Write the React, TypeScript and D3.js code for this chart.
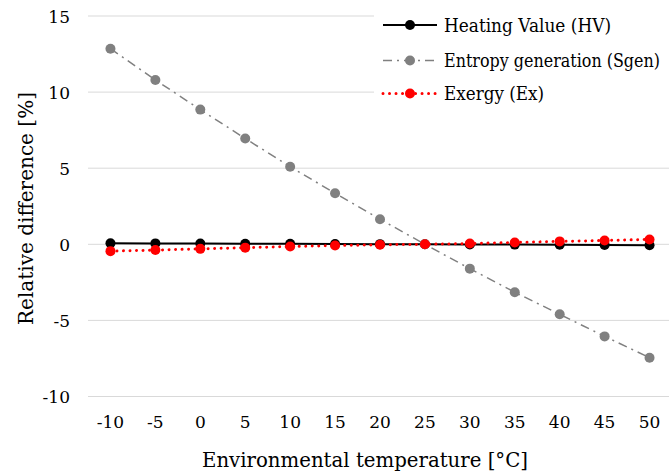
import React from "react";
import * as d3 from "d3";

const categories = ["-10", "-5", "0", "5", "10", "15", "20", "25", "30", "35", "40", "45", "50"];
const hvValues = [0.07, 0.06, 0.05, 0.04, 0.03, 0.02, 0.01, 0, -0.01, -0.02, -0.03, -0.04, -0.06];
const sgenValues = [12.85, 10.8, 8.85, 6.95, 5.1, 3.35, 1.65, 0, -1.6, -3.15, -4.6, -6.05, -7.45];
const exValues = [-0.45, -0.38, -0.3, -0.22, -0.15, -0.08, -0.03, 0, 0.05, 0.12, 0.19, 0.25, 0.32];
const yTicks = [-10, -5, 0, 5, 10, 15];
const seriesNames = ["Heating Value (HV)", "Entropy generation (Sgen)", "Exergy (Ex)"];
const legendTextWidths = [167, 216, 100];

const W = 669;
const H = 475;
const FONT = "DejaVu Serif, serif";

export default function App() {
  const x = d3.scaleBand<string>().domain(categories).range([88, 672]);
  const y = d3.scaleLinear().domain([-10, 15]).range([396.5, 16]);
  const cx = (c: string) => (x(c) as number) + x.bandwidth() / 2;

  const line = d3
    .line<number>()
    .x((_, i) => cx(categories[i]))
    .y((d) => y(d));

  const series = [
    { name: seriesNames[0], values: hvValues, color: "#000000", width: 2, dash: undefined as string | undefined, cap: "butt" },
    { name: seriesNames[1], values: sgenValues, color: "#808080", width: 1.5, dash: "9,5,2,5", cap: "butt" },
    { name: seriesNames[2], values: exValues, color: "#ff0000", width: 3, dash: "0.01,6.5", cap: "round" },
  ];

  const legendY = [25, 60.5, 93.5];
  const txt = { fontFamily: FONT, fill: "#000" } as React.CSSProperties;

  return (
    <svg width={W} height={H} style={{ position: "absolute", left: 0, top: 0, background: "#fff" }}>
      <rect x={0} y={0} width={W} height={H} fill="#fff" />
      {yTicks.map((t) => (
        <g key={t}>
          <line x1={88} x2={W} y1={y(t)} y2={y(t)} stroke="#d9d9d9" strokeWidth={1} />
          <text x={70} y={y(t) + 6.5} textAnchor="end" style={{ ...txt, fontSize: 17 }}>
            {t}
          </text>
        </g>
      ))}
      {categories.map((c) => (
        <text key={c} x={cx(c)} y={427.5} textAnchor="middle" style={{ ...txt, fontSize: 17 }}>
          {c}
        </text>
      ))}
      <text
        x={202}
        y={467}
        textLength={326}
        lengthAdjust="spacingAndGlyphs"
        style={{ ...txt, fontSize: 21 }}
      >
        Environmental temperature [°C]
      </text>
      <text
        transform={`translate(33,325) rotate(-90)`}
        textLength={233}
        lengthAdjust="spacingAndGlyphs"
        style={{ ...txt, fontSize: 21 }}
      >
        Relative difference [%]
      </text>
      {series.map((s) => (
        <g key={s.name}>
          <path
            d={line(s.values) || ""}
            fill="none"
            stroke={s.color}
            strokeWidth={s.width}
            strokeDasharray={s.dash}
            strokeLinecap={s.cap as any}
          />
          {s.values.map((v, i) => (
            <circle key={i} cx={cx(categories[i])} cy={y(v)} r={5} fill={s.color} />
          ))}
        </g>
      ))}
      <rect x={374} y={0} width={W - 374} height={110} fill="#fff" />
      {series.map((s, i) => (
        <g key={"lg" + i}>
          <line
            x1={383}
            x2={437}
            y1={legendY[i]}
            y2={legendY[i]}
            stroke={s.color}
            strokeWidth={s.width}
            strokeDasharray={s.dash}
            strokeLinecap={s.cap as any}
          />
          <circle cx={410} cy={legendY[i]} r={5} fill={s.color} />
          <text
            x={444}
            y={legendY[i] + 6.5}
            textLength={legendTextWidths[i]}
            lengthAdjust="spacingAndGlyphs"
            style={{ ...txt, fontSize: 18 }}
          >
            {s.name}
          </text>
        </g>
      ))}
    </svg>
  );
}
